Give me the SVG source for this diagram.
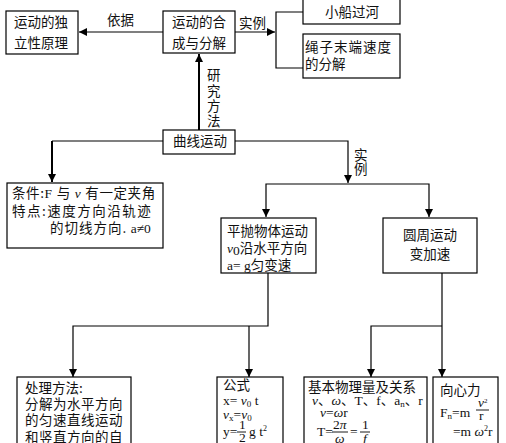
<svg xmlns="http://www.w3.org/2000/svg" width="506" height="443" viewBox="0 0 506 443">
<style>
.bg{fill:#fff}
.box{fill:#fff;stroke:#000;stroke-width:1.2}
.t{font-family:"Noto Sans CJK SC","Liberation Sans",sans-serif;font-size:13.5px;fill:#111}
.m{font-family:"Liberation Serif","Noto Sans CJK SC",serif;font-size:13.5px;fill:#111}
.i{font-style:italic}
.c{stroke:#000;stroke-width:1.2;fill:none}
.thick{stroke-width:2}
.fl{stroke:#000;stroke-width:0.9}
</style>
<defs>
<marker id="ah" markerUnits="userSpaceOnUse" markerWidth="10" markerHeight="8" refX="8" refY="4" orient="auto">
<path d="M0,0 L8,4 L0,8 Z" fill="#000"/>
</marker>
</defs>
<rect class="bg" x="0" y="0" width="506" height="443"/>
<g id="connectors">
<path class="c" d="M163,32 H79" marker-end="url(#ah)"/>
<path class="c" d="M235,32 H275" marker-end="url(#ah)"/>
<path class="c" d="M303,12 H276 V68 H303"/>
<path class="c thick" d="M199,130 V54" marker-end="url(#ah)"/>
<path class="c" d="M163,141 H52"/>
<path class="c thick" d="M52,141 V182" marker-end="url(#ah)"/>
<path class="c" d="M235,141 H348 V183" marker-end="url(#ah)"/>
<path class="c" d="M348,184 H266 V217" marker-end="url(#ah)"/>
<path class="c" d="M348,184 H429 V217" marker-end="url(#ah)"/>
<path class="c" d="M268,273 V326 H73 V377" marker-end="url(#ah)"/>
<path class="c" d="M249,326 V377" marker-end="url(#ah)"/>
<path class="c" d="M442,273 V377" marker-end="url(#ah)"/>
<path class="c" d="M442,326 H371 V377" marker-end="url(#ah)"/>
</g>
<g id="labels">
<text class="t" x="107" y="25">依据</text>
<text class="t" x="239" y="28">实例</text>
<text class="t" x="207" y="80" font-size="13">研</text>
<text class="t" x="207" y="96" font-size="13">究</text>
<text class="t" x="207" y="111" font-size="13">方</text>
<text class="t" x="207" y="126" font-size="13">法</text>
<text class="t" x="354" y="160" font-size="13">实</text>
<text class="t" x="354" y="174" font-size="13">例</text>
</g>
<g id="node-independence">
<rect class="box" x="6" y="11" width="72" height="43"/>
<text class="t" x="14" y="27">运动的独</text>
<text class="t" x="14" y="48">立性原理</text>
</g>
<g id="node-compose">
<rect class="box" x="163" y="11" width="72" height="42"/>
<text class="t" x="172" y="27">运动的合</text>
<text class="t" x="172" y="48">成与分解</text>
</g>
<g id="node-boat">
<rect class="box" x="303" y="-2" width="97" height="26"/>
<text class="t" x="352" y="17" text-anchor="middle">小船过河</text>
</g>
<g id="node-rope">
<rect class="box" x="303" y="34" width="97" height="44"/>
<text class="t" x="305" y="52" letter-spacing="1">绳子末端速度</text>
<text class="t" x="305" y="69">的分解</text>
</g>
<g id="node-curve">
<rect class="box" x="163" y="130" width="72" height="24"/>
<text class="t" x="173" y="146">曲线运动</text>
</g>
<g id="node-condition">
<rect class="box" x="7" y="183" width="156" height="65"/>
<text class="t" x="12" y="198" letter-spacing="0.6">条件:<tspan class="m">F </tspan>与<tspan class="m i"> v </tspan>有一定夹角</text>
<text class="t" x="12" y="216" letter-spacing="1.5">特点:速度方向沿轨迹</text>
<text class="t" x="50" y="233" letter-spacing="1">的切线方向.<tspan class="m" letter-spacing="0"> a≠0</tspan></text>
</g>
<g id="node-projectile">
<rect class="box" x="221" y="218" width="95" height="55"/>
<text class="t" x="227" y="236">平抛物体运动</text>
<text class="t" x="227" y="253"><tspan class="m i">v</tspan><tspan class="m" font-size="9" dy="2">0</tspan><tspan dy="-2">沿水平方向</tspan></text>
<text class="t" x="227" y="270"><tspan class="m">a= g</tspan>匀变速</text>
</g>
<g id="node-circular">
<rect class="box" x="383" y="218" width="94" height="55"/>
<text class="t" x="430" y="240" text-anchor="middle">圆周运动</text>
<text class="t" x="430" y="259" text-anchor="middle">变加速</text>
</g>
<g id="node-method">
<rect class="box" x="17" y="377" width="114" height="80"/>
<text class="t" x="25" y="393">处理方法:</text>
<text class="t" x="25" y="409" letter-spacing="0.5">分解为水平方向</text>
<text class="t" x="25" y="425" letter-spacing="0.5">的匀速直线运动</text>
<text class="t" x="25" y="442" letter-spacing="0.5">和竖直方向的自</text>
</g>
<g id="node-formula">
<rect class="box" x="217" y="377" width="66" height="80"/>
<text class="t" x="223" y="390">公式</text>
<text class="m" x="223" y="405" font-size="13">x= <tspan class="i">v</tspan><tspan font-size="9" dy="2">0</tspan><tspan dy="-2"> t</tspan></text>
<text class="m" x="223" y="419" font-size="13"><tspan class="i">v</tspan><tspan font-size="9" dy="2">x</tspan><tspan dy="-2">=</tspan><tspan class="i">v</tspan><tspan font-size="9" dy="2">0</tspan></text>
<text class="m" x="223" y="436" font-size="13">y=</text>
<text class="m" x="239" y="429" font-size="10">1</text>
<line class="fl" x1="237" y1="432" x2="246" y2="432"/>
<text class="m" x="239" y="442" font-size="10">2</text>
<text class="m" x="249" y="436" font-size="13">g t<tspan font-size="8" dy="-5">2</tspan></text>
</g>
<g id="node-quantities">
<rect class="box" x="304" y="377" width="123" height="80"/>
<text class="t" x="308" y="392" font-size="14.5">基本物理量及关系</text>
<text class="m" x="312" y="405" font-size="13"><tspan class="i">v</tspan>、<tspan class="i">ω</tspan>、T、f、a<tspan font-size="9" dy="2">n</tspan><tspan dy="-2">、r</tspan></text>
<text class="m" x="320" y="417" font-size="12"><tspan class="i">v</tspan>=<tspan class="i">ω</tspan>r</text>
<text class="m" x="317" y="436" font-size="13">T=</text>
<text class="m" x="333" y="429" font-size="11">2<tspan class="i">π</tspan></text>
<line class="fl" x1="332" y1="432" x2="348" y2="432"/>
<text class="m i" x="335" y="443" font-size="11">ω</text>
<text class="m" x="350" y="436" font-size="13">=</text>
<text class="m" x="362" y="429" font-size="11">1</text>
<line class="fl" x1="360" y1="432" x2="370" y2="432"/>
<text class="m i" x="363" y="443" font-size="11">f</text>
</g>
<g id="node-centripetal">
<rect class="box" x="433" y="377" width="65" height="80"/>
<text class="t" x="440" y="395">向心力</text>
<text class="m" x="440" y="417">F<tspan font-size="9" dy="2">n</tspan><tspan dy="-2">=m</tspan></text>
<text class="m" x="478" y="407" font-size="11"><tspan class="i">v</tspan><tspan font-size="7" dy="-4">2</tspan></text>
<line class="fl" x1="476" y1="410" x2="489" y2="410"/>
<text class="m" x="479" y="420" font-size="11">r</text>
<text class="m" x="453" y="436">=m <tspan class="i">ω</tspan><tspan font-size="8" dy="-5">2</tspan><tspan dy="5">r</tspan></text>
</g>
</svg>
